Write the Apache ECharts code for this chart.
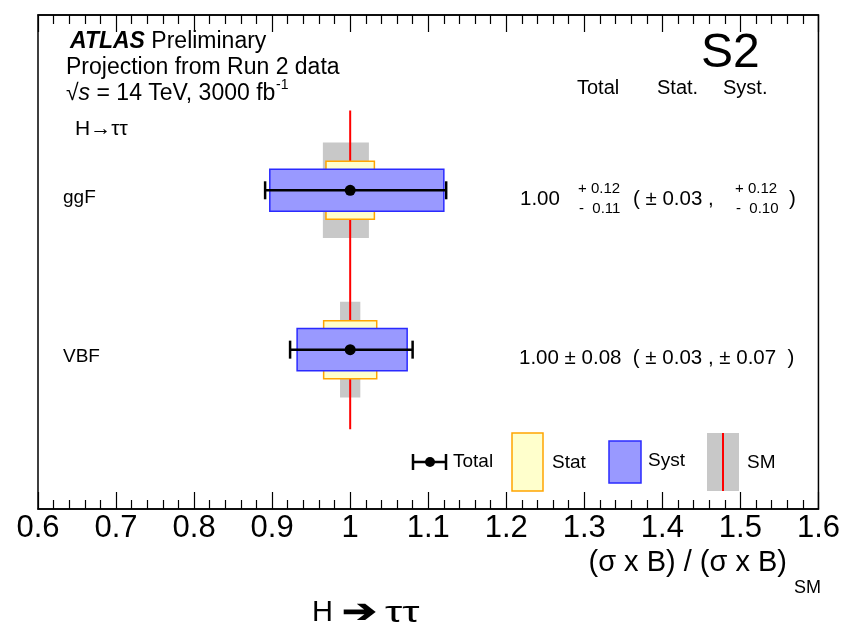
<!DOCTYPE html>
<html><head><meta charset="utf-8">
<script src="https://cdn.jsdelivr.net/npm/echarts@6/dist/echarts.min.js"></script>
<style>html,body{margin:0;padding:0;background:#fff}#c{width:843px;height:636px}</style>
</head><body><div id="c"></div>
<script>
// ---- data ----
const categories = ['ggF', 'VBF'];
const rowPos = [2, 1];
const central = [1.00, 1.00];
const totalUp = [0.123, 0.080];
const totalDown = [0.109, 0.077];
const statUp = [0.031, 0.034];
const statDown = [0.031, 0.034];
const systUp = [0.120, 0.073];
const systDown = [0.103, 0.068];
const smUp = [0.024, 0.013];
const smDown = [0.035, 0.013];
const smValue = 1;
const smSpan = [0.5, 2.5];
const xMin = 0.6, xMax = 1.6, xStep = 0.1;
const centralTxt = ['1.00', '1.00'];
const totalUpTxt = ['0.12', '0.08'];
const totalDownTxt = ['0.11', '0.08'];
const statUpTxt = ['0.03', '0.03'];
const statDownTxt = ['0.03', '0.03'];
const systUpTxt = ['0.12', '0.07'];
const systDownTxt = ['0.10', '0.07'];

const F = "'Liberation Sans', Arial, Helvetica, sans-serif";
const GREY = '#c8c8c8', YEL = '#ffffcc', ORG = '#ffa500', BLU = '#9999ff', BLUE_E = '#2a2aff', RED = '#ff0000';

const chart = echarts.init(document.getElementById('c'), null, {renderer: 'canvas'});

function rect(api, x0, x1, yc, hh, style) {
  const p0 = api.coord([x0, yc + hh]);
  const p1 = api.coord([x1, yc - hh]);
  return {type: 'rect', shape: {x: p0[0], y: p0[1], width: p1[0] - p0[0], height: p1[1] - p0[1]}, style: style};
}

const rowData = categories.map((c, i) => [central[i], rowPos[i], i]);

const xAxisCommon = {
  type: 'value', min: xMin, max: xMax, interval: xStep,
  axisLine: {show: true, onZero: false, lineStyle: {color: '#000', width: 1.5}},
  axisTick: {show: true, inside: true, length: 17, lineStyle: {color: '#000', width: 1.2}},
  minorTick: {show: true, splitNumber: 5, length: 9, lineStyle: {color: '#000', width: 1.2}},
  splitLine: {show: false}, minorSplitLine: {show: false}
};

const option = {
  animation: false,
  backgroundColor: '#fff',
  grid: {left: 38, right: 22, top: 15, bottom: 127, show: true, borderColor: '#000', borderWidth: 1.5},
  xAxis: [
    Object.assign({}, xAxisCommon, {position: 'bottom',
      axisLabel: {show: true, color: '#000', fontSize: 31, fontFamily: F, margin: 4, showMinLabel: true, showMaxLabel: true}}),
    Object.assign({}, xAxisCommon, {position: 'top', axisLabel: {show: false}})
  ],
  yAxis: {type: 'value', min: 0, max: 3.1, show: false},
  series: [
    { // SM theory band
      type: 'custom', z: 1, xAxisIndex: 0, data: rowData,
      renderItem: function (params, api) {
        const i = api.value(2), c = api.value(0), y = api.value(1);
        return rect(api, c - smDown[i], c + smUp[i], y, 0.30, {fill: GREY});
      }
    },
    { // SM line
      type: 'line', z: 2, xAxisIndex: 0, symbol: 'none',
      data: [[smValue, smSpan[0]], [smValue, smSpan[1]]],
      lineStyle: {color: RED, width: 2}
    },
    { // stat, syst, total
      type: 'custom', z: 3, xAxisIndex: 0, data: rowData,
      renderItem: function (params, api) {
        const i = api.value(2), c = api.value(0), y = api.value(1);
        const pc = api.coord([c, y]);
        const pl = api.coord([c - totalDown[i], y]);
        const pr = api.coord([c + totalUp[i], y]);
        return {type: 'group', children: [
          rect(api, c - statDown[i], c + statUp[i], y, 0.182, {fill: YEL, stroke: ORG, lineWidth: 1.5}),
          rect(api, c - systDown[i], c + systUp[i], y, 0.132, {fill: BLU, stroke: BLUE_E, lineWidth: 1.5}),
          {type: 'line', shape: {x1: pl[0], y1: pc[1], x2: pr[0], y2: pc[1]}, style: {stroke: '#000', lineWidth: 2.5}},
          {type: 'line', shape: {x1: pl[0], y1: pc[1] - 9, x2: pl[0], y2: pc[1] + 9}, style: {stroke: '#000', lineWidth: 2.5}},
          {type: 'line', shape: {x1: pr[0], y1: pc[1] - 9, x2: pr[0], y2: pc[1] + 9}, style: {stroke: '#000', lineWidth: 2.5}},
          {type: 'circle', shape: {cx: pc[0], cy: pc[1], r: 5.5}, style: {fill: '#000'}}
        ]};
      }
    },
    { // row labels and numeric table
      type: 'custom', z: 4, xAxisIndex: 0, data: rowData,
      renderItem: function (params, api) {
        const i = api.value(2), y = api.value(1);
        const py = api.coord([1, y])[1];
        const ty = py + 9;
        const T = (x, yy, s, fs) => ({type: 'text', x: x, y: yy,
          style: {text: s, fill: '#000', font: fs + 'px ' + F, textVerticalAlign: 'middle', textAlign: 'left'}});
        const kids = [T(63, py + 7, categories[i], 19)];
        const totSym = totalUpTxt[i] === totalDownTxt[i];
        const sysSym = systUpTxt[i] === systDownTxt[i];
        if (totSym && sysSym) {
          kids.push(T(519, ty, centralTxt[i] + ' \u00b1 ' + totalUpTxt[i] + '  ( \u00b1 ' + statUpTxt[i] + ' , \u00b1 ' + systUpTxt[i] + '  )', 20.5));
        } else {
          kids.push(T(520, ty, centralTxt[i], 20.5));
          kids.push(T(578, ty - 10, '+ ' + totalUpTxt[i], 15));
          kids.push(T(579, ty + 10, '-  ' + totalDownTxt[i], 15));
          kids.push(T(633, ty, '( \u00b1 ' + statUpTxt[i] + ' ,', 20.5));
          kids.push(T(735, ty - 10, '+ ' + systUpTxt[i], 15));
          kids.push(T(736, ty + 10, '-  ' + systDownTxt[i], 15));
          kids.push(T(789, ty, ')', 20.5));
        }
        return {type: 'group', children: kids};
      }
    }
  ],
  graphic: [
    {type: 'text', x: 70, y: 42, style: {text: '{b|ATLAS} Preliminary', font: '23px ' + F, fill: '#000', textVerticalAlign: 'middle',
      rich: {b: {font: 'italic bold 23px ' + F, fill: '#000'}}}},
    {type: 'text', x: 66, y: 68, style: {text: 'Projection from Run 2 data', font: '23px ' + F, fill: '#000', textVerticalAlign: 'middle'}},
    {type: 'text', x: 66, y: 94, style: {text: '\u221a{i|s} = 14 TeV, 3000 fb', font: '23px ' + F, fill: '#000', textVerticalAlign: 'middle',
      rich: {i: {font: 'italic 23px ' + F, fill: '#000'}}}},
    {type: 'text', x: 276, y: 85, style: {text: '-1', font: '14px ' + F, fill: '#000', textVerticalAlign: 'middle'}},
    {type: 'text', x: 75, y: 129, style: {text: 'H\u2192\u03c4\u03c4', font: '21px ' + F, fill: '#000', textVerticalAlign: 'middle'}},
    {type: 'text', x: 701, y: 54, style: {text: 'S2', font: '48px ' + F, fill: '#000', textVerticalAlign: 'middle'}},
    {type: 'text', x: 577, y: 88, style: {text: 'Total', font: '20px ' + F, fill: '#000', textVerticalAlign: 'middle'}},
    {type: 'text', x: 657, y: 88, style: {text: 'Stat.', font: '20px ' + F, fill: '#000', textVerticalAlign: 'middle'}},
    {type: 'text', x: 723, y: 88, style: {text: 'Syst.', font: '20px ' + F, fill: '#000', textVerticalAlign: 'middle'}},
    // legend
    {type: 'line', shape: {x1: 413, y1: 462, x2: 446, y2: 462}, style: {stroke: '#000', lineWidth: 2.5}},
    {type: 'line', shape: {x1: 413, y1: 454, x2: 413, y2: 470}, style: {stroke: '#000', lineWidth: 2.5}},
    {type: 'line', shape: {x1: 446, y1: 454, x2: 446, y2: 470}, style: {stroke: '#000', lineWidth: 2.5}},
    {type: 'circle', shape: {cx: 430, cy: 462, r: 5}, style: {fill: '#000'}},
    {type: 'text', x: 453, y: 462, style: {text: 'Total', font: '19px ' + F, fill: '#000', textVerticalAlign: 'middle'}},
    {type: 'rect', shape: {x: 512, y: 433, width: 31, height: 58}, style: {fill: YEL, stroke: ORG, lineWidth: 1.5}},
    {type: 'text', x: 552, y: 463, style: {text: 'Stat', font: '19px ' + F, fill: '#000', textVerticalAlign: 'middle'}},
    {type: 'rect', shape: {x: 609, y: 441, width: 32, height: 42}, style: {fill: BLU, stroke: BLUE_E, lineWidth: 1.5}},
    {type: 'text', x: 648, y: 461, style: {text: 'Syst', font: '19px ' + F, fill: '#000', textVerticalAlign: 'middle'}},
    {type: 'rect', shape: {x: 707, y: 433, width: 32, height: 58}, style: {fill: GREY}},
    {type: 'line', shape: {x1: 723, y1: 433, x2: 723, y2: 491}, style: {stroke: RED, lineWidth: 2}},
    {type: 'text', x: 747, y: 463, style: {text: 'SM', font: '19px ' + F, fill: '#000', textVerticalAlign: 'middle'}},
    // axis title
    {type: 'text', x: 787, y: 563, style: {text: '(\u03c3 x B) / (\u03c3 x B)', font: '29px ' + F, fill: '#000', textAlign: 'right', textVerticalAlign: 'middle'}},
    {type: 'text', x: 821, y: 588, style: {text: 'SM', font: '18px ' + F, fill: '#000', textAlign: 'right', textVerticalAlign: 'middle'}},
    // bottom title
    {type: 'text', x: 312, y: 613, style: {text: 'H', font: '29px ' + F, fill: '#000', textVerticalAlign: 'middle'}},
    {type: 'text', x: 342, y: 613, scaleX: 1.3, style: {text: '\u2794', font: 'bold 32px ' + F, fill: '#000', textVerticalAlign: 'middle'}},
    {type: 'text', x: 385, y: 614, scaleX: 1.5, style: {text: '\u03c4\u03c4', font: '29px ' + F, fill: '#000', textVerticalAlign: 'middle'}}
  ]
};
chart.setOption(option);
</script>
</body></html>
